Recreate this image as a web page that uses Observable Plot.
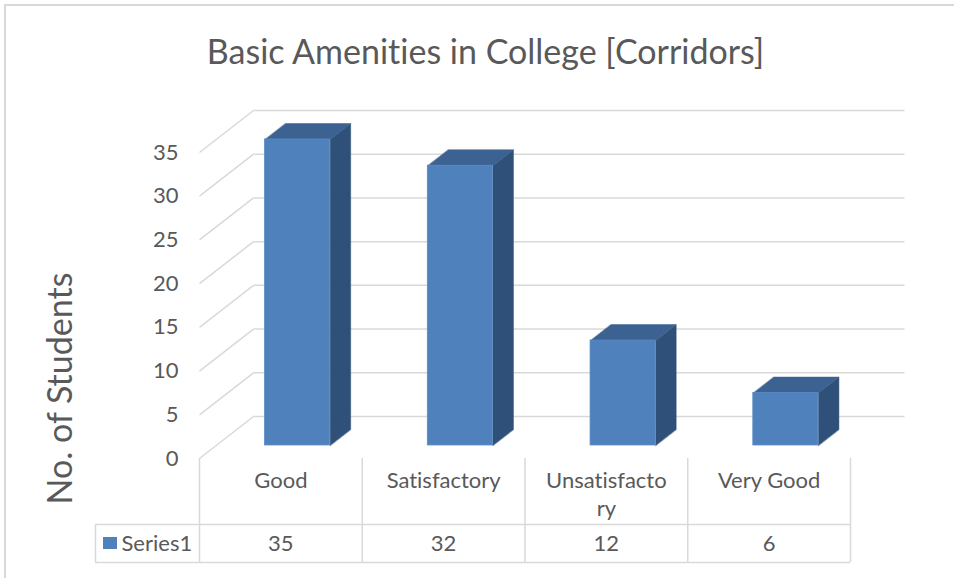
<!DOCTYPE html>
<html>
<head>
<meta charset="utf-8">
<script src="https://cdn.jsdelivr.net/npm/d3@7"></script>
<script src="https://cdn.jsdelivr.net/npm/@observablehq/plot@0.6"></script>
<style>
  html, body { margin: 0; padding: 0; background: #fff; }
  #wrap { position: relative; width: 954px; height: 578px; overflow: hidden; font-family: Lato, "Open Sans", sans-serif; font-variant-ligatures: none; }
  #border { position: absolute; left: 4px; top: 4px; width: 1000px; height: 1000px; border-left: 2px solid #d9d9d9; border-top: 2px solid #d9d9d9; box-sizing: border-box; }
  #title { position: absolute; left: 0; top: 31px; width: 971px; text-align: center; font-size: 34px; color: #595959; line-height: 40px; }
  #chart { position: absolute; left: 0; top: 0; }
  #chart svg text { font-variant-ligatures: none; }
</style>
</head>
<body>
<div id="wrap">
  <div id="border"></div>
  <div id="chart"></div>
  <div id="title">Basic Amenities in College [Corridors]</div>
</div>
<script>
// ---- data ----
const categories = ["Good", "Satisfactory", "Unsatisfactory", "Very Good"];
const categoryLabels = ["Good", "Satisfactory", "Unsatisfacto\nry", "Very Good"];
const values = [35, 32, 12, 6];
const seriesName = "Series1";
const yTicks = [0, 5, 10, 15, 20, 25, 30, 35];
const yTitle = "No. of Students";

// ---- geometry helpers (3D projection expressed in data units) ----
const xs = Plot.scale({x: {domain: [0, 4], range: [199, 850]}});
const ys = Plot.scale({y: {domain: [0, 35], range: [458, 152]}});
const DU = xs.invert(199 + 54);      // full depth offset along x (category units)
const DV = ys.invert(458 - 42);      // full depth offset along y (value units)
const d0 = 0.31, d1 = 0.69;          // bar depth span
const barL = 0.3, barR = 0.7;        // bar span within category

const fronts = [], topFaces = [], sideFaces = [];
categories.forEach((c, i) => {
  const v = values[i];
  const uL = i + barL, uR = i + barR;
  const a0 = DU * d0, b0 = DV * d0, a1 = DU * d1, b1 = DV * d1;
  fronts.push({c, x1: uL + a0, x2: uR + a0, y1: b0, y2: v + b0});
  [[uL + a0, v + b0], [uR + a0, v + b0], [uR + a1, v + b1], [uL + a1, v + b1]]
    .forEach(([u, w]) => topFaces.push({c, u, w}));
  [[uR + a0, b0], [uR + a0, v + b0], [uR + a1, v + b1], [uR + a1, b1]]
    .forEach(([u, w]) => sideFaces.push({c, u, w}));
});

const backGrid = yTicks.map(t => ({x1: DU, x2: 4 + DU, y1: t + DV, y2: t + DV}));
const sideGrid = yTicks.map(t => ({x1: 0, x2: DU, y1: t, y2: t + DV}));

// table geometry (pixel positions converted through the scales)
const tRow1 = ys.invert(524), tRow2 = ys.invert(562);
const tLeft = xs.invert(95);
const tableV = [0, 1, 2, 3, 4].map(k => ({x: k, y1: 0, y2: tRow2}));
const tableH = [{x1: tLeft, x2: 4, y: tRow1}, {x1: tLeft, x2: 4, y: tRow2}];
const tableRows = categories.map((c, i) => ({c, u: i + 0.5, label: categoryLabels[i], value: values[i]}));

const textColor = "#595959", gridColor = "#d9d9d9";
const frontColor = "#4f81bd", topColor = "#3b6290", sideColor = "#2f5078";

const chart = Plot.plot({
  width: 954, height: 578,
  marginLeft: 199, marginRight: 104, marginTop: 152, marginBottom: 120,
  x: {domain: [0, 4], axis: null},
  y: {domain: [0, 35], axis: null},
  style: {fontFamily: "Lato, 'Open Sans', sans-serif", color: textColor, background: "transparent", overflow: "visible"},
  marks: [
    Plot.link(backGrid, {x1: "x1", x2: "x2", y1: "y1", y2: "y2", stroke: gridColor, strokeWidth: 1.5}),
    Plot.link(sideGrid, {x1: "x1", x2: "x2", y1: "y1", y2: "y2", stroke: gridColor, strokeWidth: 1.5}),
    Plot.axisY(yTicks, {anchor: "left", tickSize: 0, tickPadding: 21, fontSize: 22, label: null, fill: textColor}),
    Plot.line(sideFaces, {x: "u", y: "w", z: "c", curve: "linear-closed", fill: sideColor, stroke: sideColor, strokeWidth: 0.5}),
    Plot.line(topFaces, {x: "u", y: "w", z: "c", curve: "linear-closed", fill: topColor, stroke: topColor, strokeWidth: 0.5}),
    Plot.rect(fronts, {x1: "x1", x2: "x2", y1: "y1", y2: "y2", fill: frontColor, stroke: "#5a8ac4", strokeWidth: 0.8}),
    // data table
    Plot.ruleX(tableV, {x: "x", y1: "y1", y2: "y2", stroke: gridColor, strokeWidth: 1.5}),
    Plot.ruleY(tableH, {y: "y", x1: "x1", x2: "x2", stroke: gridColor, strokeWidth: 1.5}),
    Plot.ruleX([tLeft], {y1: tRow1, y2: tRow2, stroke: gridColor, strokeWidth: 1.5}),
    Plot.text(tableRows, {x: "u", y: ys.invert(468), text: "label", lineAnchor: "top", lineHeight: 1.27, fontSize: 22, fill: textColor}),
    Plot.text(tableRows, {x: "u", y: ys.invert(543), text: d => String(d.value), lineAnchor: "middle", fontSize: 22, fill: textColor}),
    Plot.rect([seriesName], {x1: xs.invert(103), x2: xs.invert(117), y1: ys.invert(549), y2: ys.invert(537), fill: frontColor}),
    Plot.text([seriesName], {x: xs.invert(121), y: ys.invert(543), text: d => d, textAnchor: "start", lineAnchor: "middle", fontSize: 22, fill: textColor}),
    // y axis title
    Plot.text([yTitle], {x: xs.invert(61), y: ys.invert(388), text: d => d, rotate: -90, fontSize: 34, fill: textColor, lineAnchor: "middle"})
  ]
});
document.getElementById("chart").appendChild(chart);
</script>
</body>
</html>
